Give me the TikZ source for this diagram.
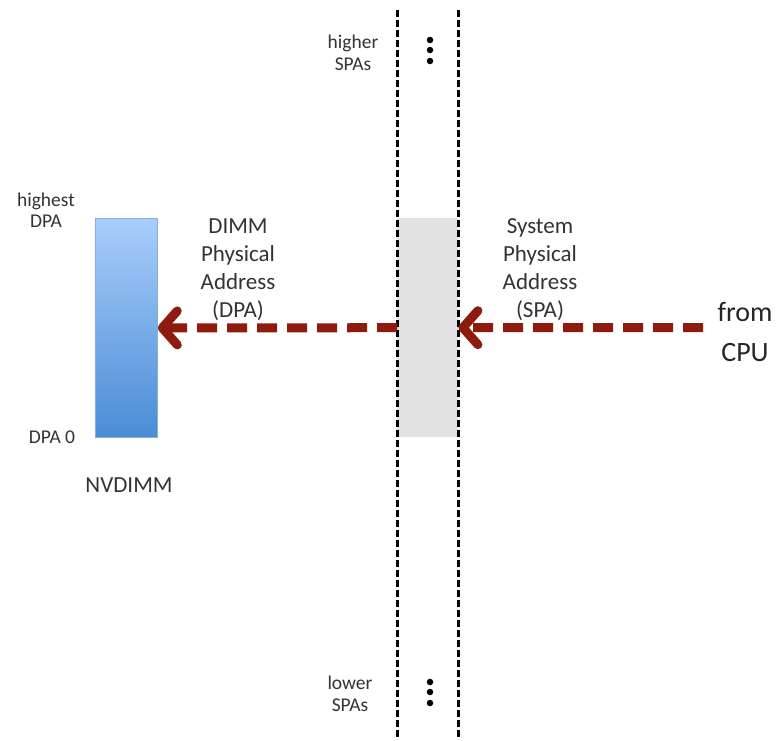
\documentclass[tikz,border=0pt]{standalone}
\usepackage{fontspec}
\setmainfont{Carlito}
\usetikzlibrary{arrows.meta}
\definecolor{arrowred}{HTML}{8E1B0E}
\definecolor{txtgray}{HTML}{333333}
\definecolor{blueTop}{HTML}{A9CDFB}
\definecolor{blueBot}{HTML}{4A8CD6}
\definecolor{spagray}{HTML}{E2E2E2}
\tikzset{
  smalllbl/.style={font=\fontsize{19.5}{21.5}\selectfont, text=txtgray, align=center, inner sep=0pt},
  midlbl/.style={font=\fontsize{23}{28}\selectfont, text=txtgray, align=center, inner sep=0pt},
  biglbl/.style={font=\fontsize{28}{40}\selectfont, text=black!85, align=center, inner sep=0pt},
  addrline/.style={line width=3pt, dash pattern=on 7pt off 3pt, black},
  bigarrow/.style={line width=9pt, arrowred, dash pattern=on 20pt off 10pt,
     -{Straight Barb[length=15pt, width=34pt, line cap=round, line join=round]}},
  vdots/.style={circle, fill=black, inner sep=0pt, minimum size=6.5pt}
}
\begin{document}
\begin{tikzpicture}[x=1pt,y=-1pt]
\useasboundingbox (0,0) rectangle (778,740);
% SPA window
\node[fill=spagray, minimum width=61pt, minimum height=219pt, inner sep=0pt, anchor=north west] (spa) at (397,218) {};
% address lines
\coordinate (l1t) at (397,10); \coordinate (l1b) at (397,740);
\coordinate (l2t) at (458,10); \coordinate (l2b) at (458,740);
\draw[addrline] (l1t) -- (l1b);
\draw[addrline] (l2t) -- (l2b);
% NVDIMM
\node[top color=blueTop, bottom color=blueBot, draw=blueBot!70!white, line width=0.8pt, minimum width=62pt, minimum height=219pt, inner sep=0pt, anchor=north west] (nvd) at (95,218) {};
% dots
\node[vdots] (d1) at (430,40) {};
\node[vdots] (d2) at (430,50) {};
\node[vdots] (d3) at (430,61) {};
\node[vdots] (d4) at (430,682) {};
\node[vdots] (d5) at (430,692) {};
\node[vdots] (d6) at (430,703) {};
% labels
\node[smalllbl] (hi) at (353,53) {higher\\SPAs};
\node[smalllbl] (lo) at (350,694) {lower\\SPAs};
\node[smalllbl] (hd) at (46,210) {highest\\DPA};
\node[smalllbl] (d0) at (52,437) {DPA 0};
\node[midlbl] (nv) at (129,485) {NVDIMM};
\node[midlbl] (dpa) at (238,270) {DIMM\\Physical\\Address\\(DPA)};
\node[midlbl] (sysl) at (540,270) {System\\Physical\\Address\\(SPA)};
\node[biglbl] (cpu) at (745,332) {from\\CPU};
\coordinate (cpuend) at (703,327.5);
% arrows
\draw[bigarrow] (spa.west) -- (nvd.east);
\draw[bigarrow] (cpuend) -- (spa.east);
\end{tikzpicture}
\end{document}
